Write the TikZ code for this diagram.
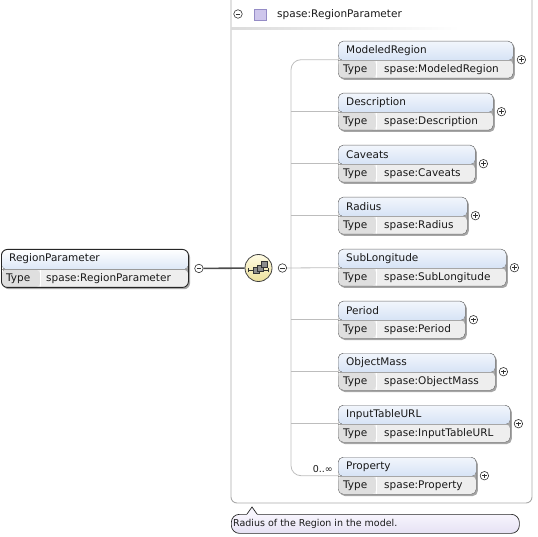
\documentclass[tikz,border=0pt]{standalone}
\usepackage{fontspec}
\setmainfont{DejaVu Sans}
\usetikzlibrary{shadows}

\definecolor{titletop}{HTML}{F2F6FC}
\definecolor{titlebot}{HTML}{BCD1EF}
\definecolor{rowgray}{HTML}{EEEEEE}
\definecolor{cellgray}{HTML}{DFDFDF}
\definecolor{boxline}{HTML}{6A6A6A}
\definecolor{treegray}{HTML}{BDBDBD}
\definecolor{framegray}{HTML}{A9A9A9}
\definecolor{seqtop}{HTML}{FFFCE4}
\definecolor{seqbot}{HTML}{EDE09C}
\definecolor{lavfill}{HTML}{CEC6EC}
\definecolor{lavline}{HTML}{958CC6}
\definecolor{tiptop}{HTML}{F7F5FD}
\definecolor{tipbot}{HTML}{E6E2F4}

\tikzset{
  elemtext/.style={font=\fontsize{10.5}{12}\selectfont, text=black!90, inner sep=0pt, anchor=west},
  tiptext/.style={font=\fontsize{9.5}{11}\selectfont, text=black!90, inner sep=0pt, anchor=west},
  elembox/.style={draw=boxline, rounded corners=5pt, minimum height=37pt, inner sep=0pt, anchor=north west,
    drop shadow={shadow xshift=1.6pt, shadow yshift=-1.8pt, fill=black!50, opacity=0.7},
    path picture={
      \fill[top color=titletop, bottom color=titlebot] (path picture bounding box.north west) rectangle ([yshift=-19pt]path picture bounding box.north east);
      \fill[rowgray] ([yshift=-19pt]path picture bounding box.north west) rectangle (path picture bounding box.south east);
      \fill[cellgray] ([yshift=-19pt]path picture bounding box.north west) rectangle ([xshift=38pt]path picture bounding box.south west);
      \draw[white, line width=1pt] ([xshift=38pt, yshift=-19pt]path picture bounding box.north west) -- ([xshift=38pt]path picture bounding box.south west);
      \draw[black!35, line width=0.5pt] ([yshift=-19pt]path picture bounding box.north west) -- ([yshift=-19pt]path picture bounding box.north east);
    }},
  rootbox/.style={draw=black!85, line width=0.9pt, rounded corners=6pt, minimum height=38pt, inner sep=0pt, anchor=north west,
    drop shadow={shadow xshift=1.6pt, shadow yshift=-1.8pt, fill=black!50, opacity=0.7},
    path picture={
      \fill[top color=white, bottom color=titlebot] (path picture bounding box.north west) rectangle ([yshift=-20pt]path picture bounding box.north east);
      \fill[rowgray] ([yshift=-20pt]path picture bounding box.north west) rectangle (path picture bounding box.south east);
      \fill[cellgray] ([yshift=-20pt]path picture bounding box.north west) rectangle ([xshift=39pt]path picture bounding box.south west);
      \draw[white, line width=1pt] ([xshift=39pt, yshift=-20pt]path picture bounding box.north west) -- ([xshift=39pt]path picture bounding box.south west);
      \draw[black!40, line width=0.5pt] ([yshift=-20pt]path picture bounding box.north west) -- ([yshift=-20pt]path picture bounding box.north east);
    }},
  minusbtn/.style={circle, draw=black!80, fill=white, line width=0.6pt, minimum size=8.5pt, inner sep=0pt,
    path picture={\draw[line width=0.7pt] ([xshift=-2.2pt]path picture bounding box.center) -- ([xshift=2.2pt]path picture bounding box.center);}},
  plusbtn/.style={minusbtn,
    path picture={\draw[line width=0.7pt] ([xshift=-2.2pt]path picture bounding box.center) -- ([xshift=2.2pt]path picture bounding box.center);
      \draw[line width=0.7pt] ([yshift=-2.2pt]path picture bounding box.center) -- ([yshift=2.2pt]path picture bounding box.center);}},
  seqsym/.style={circle, draw=black!75, line width=0.8pt, minimum size=27pt, inner sep=0pt, top color=seqtop, bottom color=seqbot},
  typesq/.style={draw=lavline, fill=lavfill, minimum size=11.5pt, inner sep=0pt},
  tipbox/.style={draw=black!85, line width=0.7pt, rounded corners=8pt, top color=tiptop, bottom color=tipbot, inner sep=0pt, anchor=north west},
  treeline/.style={treegray, line width=0.8pt},
  rootline/.style={black!70, line width=1.6pt}
}

\begin{document}
\begin{tikzpicture}[x=1pt, y=-1pt]
  \useasboundingbox (0,0) rectangle (538,537);
  % outer frame of the complex type
  \draw[framegray, line width=0.9pt, rounded corners=6pt] (231,-12) rectangle (532,503);
  \fill[left color=black!14, right color=white] (231,27.8) rectangle (460,29.2);
  \node[minusbtn] (hdminus) at (238,14) {};
  \node[typesq] (hdsq) at (260,14.5) {};
  \node[elemtext] (hdname) at (277,14.5) {spase:RegionParameter};

  % root element
  \node[rootbox, minimum width=187pt] (root) at (1,249) {};
  \node[elemtext] at ([xshift=8pt, yshift=-10pt]root.north west) {RegionParameter};
  \node[elemtext] at ([xshift=5pt, yshift=9pt]root.south west) {Type};
  \node[elemtext] at ([xshift=45pt, yshift=9pt]root.south west) {spase:RegionParameter};
  \node[minusbtn] (rootminus) at ([xshift=10pt]root.east) {};

  % sequence compositor
  \node[seqsym] (seq) at (258.5,268) {};
  \draw[black!80, line width=0.7pt] ([xshift=-10pt, yshift=-2.5pt]seq.center) -- ([xshift=10pt, yshift=-2.5pt]seq.center);
  \draw[black!80, line width=0.7pt] ([xshift=-10pt, yshift=-4.5pt]seq.center) -- ++(0,4pt);
  \draw[black!80, line width=0.7pt] ([xshift=10pt, yshift=-4.5pt]seq.center) -- ++(0,4pt);
  \filldraw[fill=black!45, draw=black!80, line width=0.5pt] ([xshift=-5.5pt, yshift=-5.5pt]seq.center) rectangle ++(6pt,6pt);
  \filldraw[fill=black!45, draw=black!80, line width=0.5pt] ([xshift=-1.5pt, yshift=-3pt]seq.center) rectangle ++(6pt,6pt);
  \filldraw[fill=black!45, draw=black!80, line width=0.5pt] ([xshift=2.5pt, yshift=0.5pt]seq.center) rectangle ++(6pt,6pt);
  \node[minusbtn] (seqminus) at ([xshift=10pt]seq.east) {};
  \draw[rootline] (rootminus) -- (seq);

  % child elements
  \foreach \nm/\ty/\bw [count=\i from 0] in {ModeledRegion/spase:ModeledRegion/175, Description/spase:Description/155,
      Caveats/spase:Caveats/137, Radius/spase:Radius/129, SubLongitude/spase:SubLongitude/168,
      Period/spase:Period/127, ObjectMass/spase:ObjectMass/157, InputTableURL/spase:InputTableURL/172,
      Property/spase:Property/138}{
    \node[elembox, minimum width=\bw pt] (\nm) at (338, {41+52*\i}) {};
    \node[elemtext] (\nm-name) at ([xshift=8pt, yshift=-9.5pt]\nm.north west) {\nm};
    \node[elemtext] (\nm-type) at ([xshift=5pt, yshift=9pt]\nm.south west) {Type};
    \node[elemtext] (\nm-val) at ([xshift=46pt, yshift=9pt]\nm.south west) {\ty};
    \node[plusbtn] (\nm-plus) at ([xshift=8pt]\nm.east) {};
  }

  % tree connectors
  \coordinate (trunk) at (291,0);
  \draw[treeline, rounded corners=10pt] (ModeledRegion.west) -| (trunk |- Property.west) -- (Property.west);
  \foreach \nm in {Description, Caveats, Radius, Period, ObjectMass, InputTableURL}
    \draw[treeline] (trunk |- \nm.west) -- (\nm.west);
  \draw[treeline] (seqminus) -- (SubLongitude.west);
  \node[tiptext, anchor=south east] (occurs) at ([xshift=-5pt, yshift=3pt]Property.west) {0..∞};

  % tooltip
  \node[tipbox, minimum width=288pt, minimum height=19pt] (tip) at (231,514) {};
  \fill[tiptop] ([xshift=16pt, yshift=-0.8pt]tip.north west) -- ([xshift=21pt, yshift=7pt]tip.north west) -- ([xshift=26pt, yshift=-0.8pt]tip.north west) -- cycle;
  \draw[black!85, line width=0.7pt] ([xshift=16pt]tip.north west) -- ++(5pt,7pt) -- ++(5pt,-7pt);
  \node[tiptext] (tiptxt) at ([xshift=2pt]tip.west) {Radius of the Region in the model.};
\end{tikzpicture}
\end{document}
